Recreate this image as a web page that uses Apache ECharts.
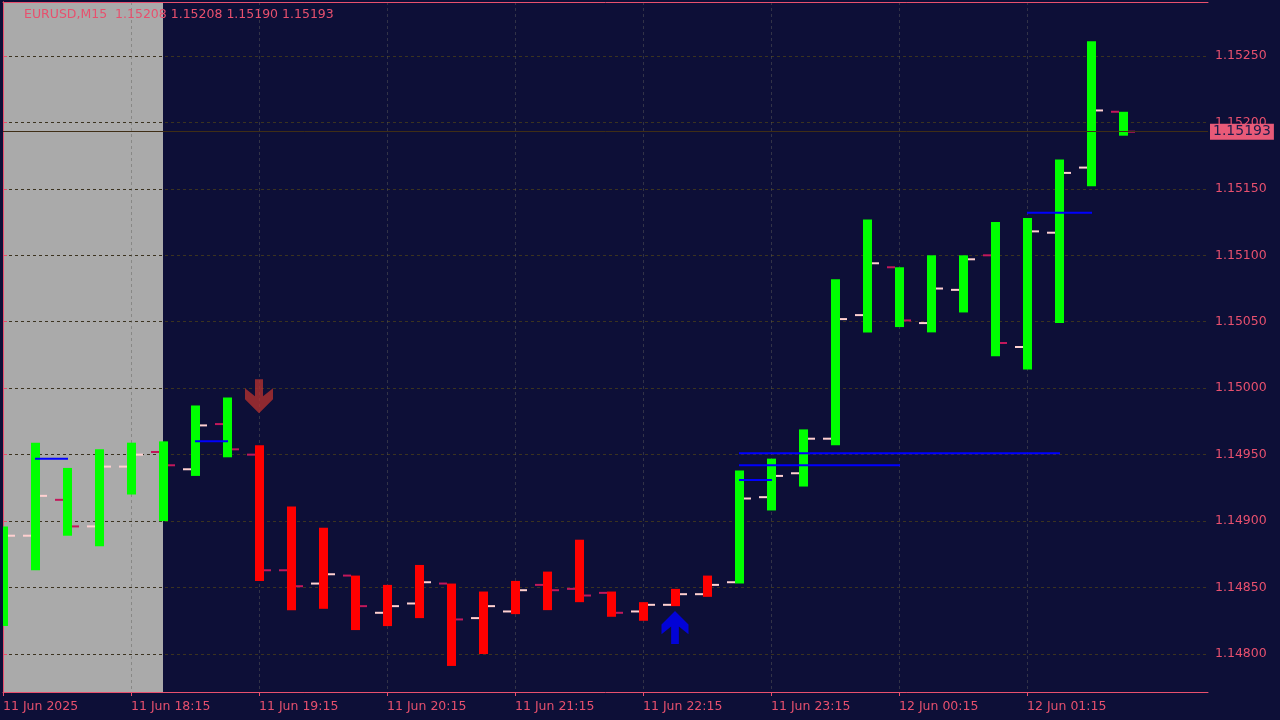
<!DOCTYPE html>
<html>
<head>
<meta charset="utf-8">
<title>EURUSD,M15</title>
<script src="https://cdn.jsdelivr.net/npm/echarts@6/dist/echarts.min.js"></script>
<style>
html, body { margin: 0; padding: 0; background: #0d0f37; }
#chart { width: 1280px; height: 720px; }
</style>
</head>
<body>
<div id="chart"></div>
<script>
// M15 bars, 11 Jun 17:15 .. 12 Jun 02:00
var openP  = [1.14850, 1.14889, 1.14916, 1.14896, 1.14941, 1.14952, 1.14939, 1.14973, 1.14950, 1.14863,
              1.14853, 1.14859, 1.14831, 1.14838, 1.14853, 1.14827, 1.14832, 1.14852, 1.14849, 1.14846,
              1.14832, 1.14837, 1.14845, 1.14854, 1.14918, 1.14936, 1.14962, 1.15055, 1.15091, 1.15049,
              1.15074, 1.15100, 1.15031, 1.15117, 1.15166, 1.15208];
var highP  = [1.14896, 1.14959, 1.14940, 1.14954, 1.14959, 1.14960, 1.14987, 1.14993, 1.14957, 1.14911,
              1.14895, 1.14859, 1.14852, 1.14867, 1.14853, 1.14847, 1.14855, 1.14862, 1.14886, 1.14847,
              1.14839, 1.14849, 1.14859, 1.14938, 1.14947, 1.14969, 1.15082, 1.15127, 1.15091, 1.15100,
              1.15100, 1.15125, 1.15128, 1.15172, 1.15261, 1.15208];
var lowP   = [1.14821, 1.14863, 1.14889, 1.14881, 1.14920, 1.14900, 1.14934, 1.14948, 1.14855, 1.14833,
              1.14834, 1.14818, 1.14821, 1.14827, 1.14791, 1.14800, 1.14830, 1.14833, 1.14839, 1.14828,
              1.14825, 1.14836, 1.14843, 1.14853, 1.14908, 1.14926, 1.14957, 1.15042, 1.15046, 1.15042,
              1.15057, 1.15024, 1.15014, 1.15049, 1.15152, 1.15190];
var closeP = [1.14889, 1.14919, 1.14896, 1.14941, 1.14950, 1.14942, 1.14972, 1.14954, 1.14863, 1.14851,
              1.14860, 1.14836, 1.14836, 1.14854, 1.14826, 1.14836, 1.14848, 1.14848, 1.14844, 1.14831,
              1.14837, 1.14845, 1.14852, 1.14917, 1.14934, 1.14962, 1.15052, 1.15094, 1.15051, 1.15075,
              1.15097, 1.15034, 1.15118, 1.15162, 1.15209, 1.15193];
// trend colour of the body: 1 = green, 0 = red
var trend  = [1, 1, 1, 1, 1, 1, 1, 1, 0, 0,
              0, 0, 0, 0, 0, 0, 0, 0, 0, 0,
              0, 0, 0, 1, 1, 1, 1, 1, 1, 1,
              1, 1, 1, 1, 1, 1];

// blue levels: from bar, to bar, price
var levelFrom  = [1, 6, 23, 23, 23, 32];
var levelTo    = [2, 7, 24, 28, 33, 34];
var levelPrice = [1.14947, 1.14960, 1.14931, 1.14942, 1.14951, 1.15132];

// signal arrows
var sellBar = [8],  sellPrice = [1.14994];
var buyBar  = [21], buyPrice  = [1.14820];

var timeTickIdx = [0, 4, 8, 12, 16, 20, 24, 28, 32];
var timeTickLabels = ['11 Jun 2025', '11 Jun 18:15', '11 Jun 19:15', '11 Jun 20:15', '11 Jun 21:15',
                      '11 Jun 22:15', '11 Jun 23:15', '12 Jun 00:15', '12 Jun 01:15'];
var priceTicks = [1.14800, 1.14850, 1.14900, 1.14950, 1.15000, 1.15050, 1.15100, 1.15150, 1.15200, 1.15250];

var lastPrice = 1.15193;
var shadeFrom = 0, shadeTo = 5;

var PINK = '#e8506e';
var FONT = 'DejaVu Sans';

var bars = openP.map(function (o, i) {
    return [i, o, highP[i], lowP[i], closeP[i], trend[i]];
});
var levels = levelFrom.map(function (f, i) {
    return [f, levelTo[i], levelPrice[i]];
});

function renderBar(params, api) {
    var k = api.value(0);
    var pO = api.coord([k, api.value(1)]);
    var pH = api.coord([k, api.value(2)]);
    var pL = api.coord([k, api.value(3)]);
    var pC = api.coord([k, api.value(4)]);
    var x = Math.round(pH[0]);
    var body = api.value(5) ? '#00ff00' : '#ff0000';
    var tick = api.value(4) >= api.value(1) ? '#ffd0d0' : '#c2185b';
    return {
        type: 'group',
        children: [
            { type: 'rect', shape: { x: x - 4, y: pH[1], width: 9, height: Math.max(pL[1] - pH[1], 1) },
              style: { fill: body } },
            { type: 'rect', shape: { x: x - 12, y: pO[1] - 1, width: 8, height: 2 }, style: { fill: tick } },
            { type: 'rect', shape: { x: x + 5, y: pC[1] - 1, width: 7, height: 2 }, style: { fill: tick } }
        ]
    };
}

function renderLevel(params, api) {
    var a = api.coord([api.value(0), api.value(2)]);
    var b = api.coord([api.value(1), api.value(2)]);
    return {
        type: 'line',
        shape: { x1: a[0], y1: a[1], x2: b[0] + 1, y2: b[1] },
        style: { stroke: '#0000ff', lineWidth: 2 }
    };
}

var chart = echarts.init(document.getElementById('chart'));
chart.setOption({
    backgroundColor: '#0d0f37',
    animation: false,
    textStyle: { fontFamily: FONT },
    graphic: [
        { type: 'polygon', shape: { points: [[6, 9], [17, 9], [11.5, 14.5]] }, style: { fill: PINK } }
    ],
    title: {
        text: 'EURUSD,M15  1.15208 1.15208 1.15190 1.15193',
        left: 24, top: 8, padding: 0,
        textStyle: { color: PINK, fontSize: 12.5, fontWeight: 'normal', fontFamily: FONT }
    },
    grid: { left: 3, right: 72, top: 2, bottom: 28 },
    xAxis: [{
        type: 'value', min: 0, max: 1205 / 32, interval: 2, z: 2,
        axisLine: { lineStyle: { color: PINK, width: 1 } },
        axisTick: { show: true, length: 4, customValues: timeTickIdx, lineStyle: { color: PINK } },
        axisLabel: {
            customValues: timeTickIdx, color: PINK, fontSize: 12.5, fontFamily: FONT, margin: 8, align: 'left',
            formatter: function (v) { var i = timeTickIdx.indexOf(Math.round(v)); return i < 0 ? '' : timeTickLabels[i]; }
        },
        splitLine: { show: true, lineStyle: { color: 'rgba(95,95,90,0.45)', type: [3, 3], width: 1 } }
    }, {
        type: 'value', position: 'top', min: 0, max: 1205 / 32, z: 2,
        axisLine: { lineStyle: { color: PINK, width: 1 } },
        axisTick: { show: false }, axisLabel: { show: false }, splitLine: { show: false }
    }],
    yAxis: [{
        type: 'value', position: 'right', min: 1.147714, max: 1.152906, splitNumber: 10, z: 2,
        axisLine: { show: true, lineStyle: { color: PINK, width: 1 } },
        axisTick: { show: true, length: 4, customValues: priceTicks, lineStyle: { color: PINK } },
        axisLabel: {
            customValues: priceTicks, color: PINK, fontSize: 12.5, fontFamily: FONT, margin: 7,
            formatter: function (v) { return v.toFixed(5); }
        },
        splitLine: { show: true, lineStyle: { color: '#3b3320', type: [3, 3], width: 1 } }
    }, {
        type: 'value', position: 'left', min: 1.147714, max: 1.152906, z: 2,
        axisLine: { show: true, lineStyle: { color: PINK, width: 1 } },
        axisTick: { show: false }, axisLabel: { show: false }, splitLine: { show: false }
    }],
    series: [{
        name: 'background',
        type: 'line',
        z: 1,
        data: [[0, lastPrice]],
        showSymbol: false,
        lineStyle: { width: 0, opacity: 0 },
        silent: true,
        markArea: {
            silent: true,
            itemStyle: { color: '#aaaaaa' },
            data: [[{ xAxis: shadeFrom }, { xAxis: shadeTo }]]
        },
        markLine: {
            silent: true,
            symbol: 'none',
            precision: 5,
            lineStyle: { color: '#3f2e16', type: 'solid', width: 1 },
            label: {
                position: 'end', distance: 2,
                formatter: lastPrice.toFixed(5),
                color: '#1c1c4c', backgroundColor: '#e85a78',
                fontSize: 14, fontFamily: FONT, padding: [1, 3, 1, 3]
            },
            data: [{ yAxis: lastPrice }]
        }
    }, {
        name: 'bars',
        type: 'custom',
        z: 3,
        clip: true,
        renderItem: renderBar,
        encode: { x: 0, y: [1, 2, 3, 4] },
        data: bars
    }, {
        name: 'levels',
        type: 'custom',
        z: 4,
        renderItem: renderLevel,
        encode: { x: [0, 1], y: 2 },
        data: levels
    }, {
        name: 'sell',
        type: 'scatter',
        z: 5,
        symbol: 'path://M10,0 L18,0 L18,17 L28,9 L28,20 L14,34 L0,20 L0,9 L10,17 Z',
        symbolSize: [28, 34],
        itemStyle: { color: '#b0302e' },
        data: sellBar.map(function (b, i) { return [b, sellPrice[i]]; })
    }, {
        name: 'buy',
        type: 'scatter',
        z: 5,
        symbol: 'path://M14,0 L28,14 L28,24 L18,16 L18,34 L10,34 L10,16 L0,24 L0,14 Z',
        symbolSize: [27, 33],
        itemStyle: { color: '#0000ff' },
        data: buyBar.map(function (b, i) { return [b, buyPrice[i]]; })
    }]
});
</script>
</body>
</html>
